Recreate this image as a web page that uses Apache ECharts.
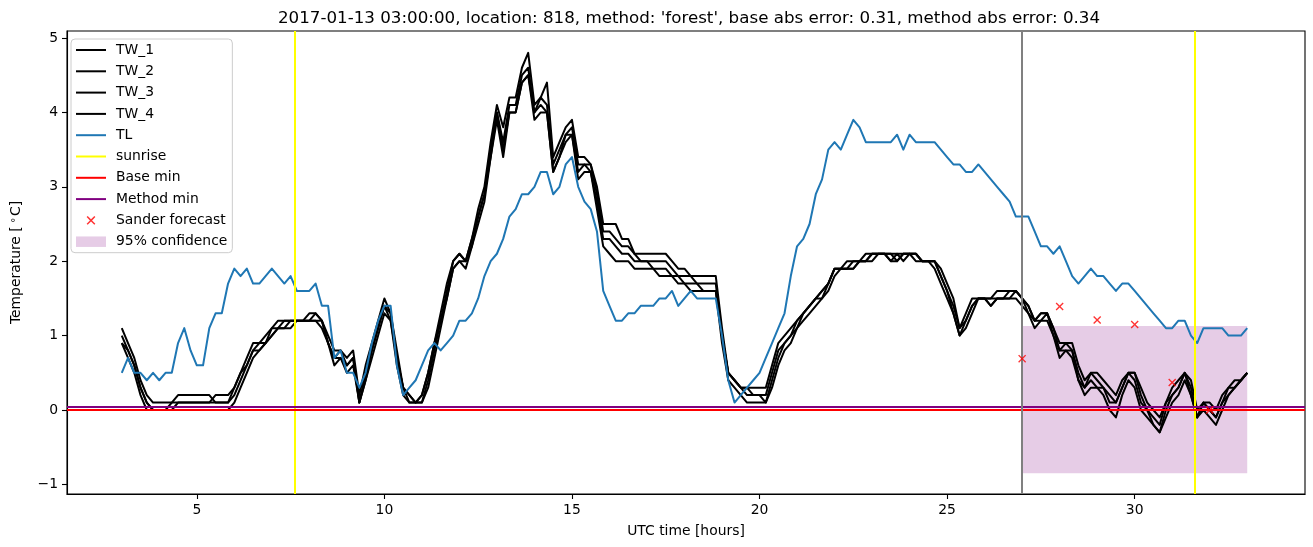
<!DOCTYPE html>
<html>
<head>
<meta charset="utf-8">
<script src="https://cdn.jsdelivr.net/npm/echarts@6/dist/echarts.min.js"></script>
<style>
html,body{margin:0;padding:0;background:#fff;}
#chart{width:1313px;height:547px;}
</style>
</head>
<body>
<div id="chart"></div>
<script>
// ---- data (10-minute samples from 3.0 h to 33.0 h) ----
const startHour = 3;
const stepHours = 1 / 6;

const TL = [
  0.5,0.7,0.5,0.5,0.4,0.5,
  0.4,0.5,0.5,0.9,1.1,0.8,
  0.6,0.6,1.1,1.3,1.3,1.7,
  1.9,1.8,1.9,1.7,1.7,1.8,
  1.9,1.8,1.7,1.8,1.6,1.6,
  1.6,1.7,1.4,1.4,0.7,0.8,
  0.5,0.5,0.3,0.5,0.9,1.2,
  1.4,1.4,0.6,0.2,0.3,0.4,
  0.6,0.8,0.9,0.8,0.9,1.0,
  1.2,1.2,1.3,1.5,1.8,2.0,
  2.1,2.3,2.6,2.7,2.9,2.9,
  3.0,3.2,3.2,2.9,3.0,3.3,
  3.4,3.0,2.8,2.7,2.4,1.6,
  1.4,1.2,1.2,1.3,1.3,1.4,
  1.4,1.4,1.5,1.5,1.6,1.4,
  1.5,1.6,1.5,1.5,1.5,1.5,
  1.0,0.4,0.1,0.2,0.3,0.4,
  0.5,0.7,0.9,1.1,1.3,1.8,
  2.2,2.3,2.5,2.9,3.1,3.5,
  3.6,3.5,3.7,3.9,3.8,3.6,
  3.6,3.6,3.6,3.6,3.7,3.5,
  3.7,3.6,3.6,3.6,3.6,3.5,
  3.4,3.3,3.3,3.2,3.2,3.3,
  3.2,3.1,3.0,2.9,2.8,2.6,
  2.6,2.6,2.4,2.2,2.2,2.1,
  2.2,2.0,1.8,1.7,1.8,1.9,
  1.8,1.8,1.7,1.6,1.7,1.7,
  1.6,1.5,1.4,1.3,1.2,1.1,
  1.1,1.2,1.2,1.0,0.9,1.1,
  1.1,1.1,1.1,1.0,1.0,1.0,
  1.1
];

const TW_1 = [
  1.1,0.9,0.7,0.4,0.2,0.1,
  0.1,0.1,0.1,0.2,0.2,0.2,
  0.2,0.2,0.2,0.1,0.1,0.1,
  0.3,0.5,0.7,0.9,0.9,1.0,
  1.1,1.2,1.2,1.2,1.2,1.2,
  1.3,1.3,1.2,1.0,0.8,0.8,
  0.7,0.8,0.2,0.6,0.9,1.2,
  1.5,1.3,0.8,0.3,0.2,0.1,
  0.2,0.5,0.9,1.3,1.7,2.0,
  2.1,2.0,2.3,2.7,3.0,3.6,
  4.1,3.8,4.2,4.2,4.6,4.8,
  4.1,4.2,4.4,3.4,3.6,3.8,
  3.9,3.4,3.4,3.3,3.0,2.5,
  2.5,2.5,2.3,2.3,2.1,2.1,
  2.1,2.1,2.1,2.1,2.0,1.9,
  1.9,1.8,1.8,1.8,1.8,1.8,
  1.1,0.5,0.4,0.3,0.3,0.3,
  0.3,0.3,0.6,0.9,1.0,1.1,
  1.2,1.3,1.4,1.5,1.6,1.7,
  1.9,1.9,2.0,2.0,2.0,2.1,
  2.1,2.1,2.1,2.1,2.1,2.1,
  2.1,2.1,2.0,2.0,2.0,1.9,
  1.7,1.5,1.1,1.3,1.5,1.5,
  1.5,1.5,1.6,1.6,1.6,1.6,
  1.5,1.4,1.2,1.3,1.3,1.1,
  0.9,0.9,0.9,0.6,0.4,0.5,
  0.5,0.4,0.3,0.2,0.4,0.5,
  0.5,0.3,0.1,0.0,-0.1,0.1,
  0.3,0.4,0.5,0.4,0.0,0.1,
  0.1,0.0,0.2,0.3,0.4,0.4,
  0.5
];

const TW_2 = [
  1.0,0.8,0.6,0.3,0.1,0.0,
  0.0,0.0,0.1,0.1,0.1,0.1,
  0.1,0.1,0.1,0.2,0.2,0.2,
  0.3,0.5,0.6,0.8,0.9,0.9,
  1.1,1.1,1.2,1.2,1.2,1.2,
  1.2,1.3,1.2,0.9,0.7,0.8,
  0.6,0.7,0.1,0.5,0.8,1.1,
  1.4,1.3,0.7,0.3,0.2,0.1,
  0.2,0.5,0.9,1.2,1.6,2.0,
  2.1,2.0,2.3,2.6,2.9,3.5,
  4.0,3.6,4.1,4.1,4.5,4.6,
  4.0,4.2,4.1,3.3,3.5,3.7,
  3.8,3.3,3.3,3.3,2.9,2.4,
  2.4,2.3,2.2,2.2,2.1,2.0,
  2.0,2.0,2.0,2.0,1.9,1.8,
  1.8,1.8,1.7,1.7,1.7,1.7,
  1.0,0.5,0.4,0.3,0.3,0.2,
  0.2,0.2,0.5,0.8,0.9,1.0,
  1.2,1.3,1.4,1.5,1.6,1.7,
  1.9,1.9,1.9,2.0,2.0,2.0,
  2.1,2.1,2.1,2.1,2.0,2.1,
  2.1,2.1,2.0,2.0,2.0,1.8,
  1.6,1.4,1.1,1.2,1.4,1.5,
  1.5,1.5,1.5,1.5,1.6,1.6,
  1.5,1.4,1.2,1.3,1.3,1.1,
  0.8,0.9,0.8,0.5,0.3,0.5,
  0.4,0.3,0.2,0.1,0.3,0.5,
  0.5,0.2,0.0,-0.1,-0.2,0.1,
  0.2,0.3,0.5,0.3,-0.1,0.1,
  0.0,-0.1,0.1,0.3,0.3,0.4,
  0.5
];

const TW_3 = [
  0.9,0.8,0.6,0.3,0.1,0.0,
  0.0,0.0,0.0,0.1,0.1,0.1,
  0.1,0.1,0.1,0.1,0.1,0.1,
  0.2,0.4,0.6,0.8,0.8,0.9,
  1.0,1.1,1.1,1.2,1.2,1.2,
  1.2,1.2,1.2,0.9,0.7,0.7,
  0.6,0.7,0.1,0.4,0.8,1.1,
  1.4,1.2,0.7,0.3,0.1,0.1,
  0.1,0.4,0.8,1.2,1.5,1.9,
  2.0,2.0,2.2,2.6,2.9,3.4,
  4.0,3.5,4.0,4.0,4.4,4.5,
  4.0,4.1,4.0,3.2,3.4,3.7,
  3.7,3.2,3.3,3.2,2.8,2.3,
  2.3,2.2,2.1,2.1,2.0,2.0,
  2.0,1.9,1.9,1.9,1.8,1.8,
  1.7,1.7,1.7,1.6,1.6,1.6,
  1.0,0.5,0.4,0.3,0.2,0.2,
  0.2,0.1,0.4,0.7,0.9,1.0,
  1.1,1.3,1.4,1.5,1.5,1.7,
  1.9,1.9,1.9,1.9,2.0,2.0,
  2.1,2.1,2.1,2.0,2.1,2.0,
  2.1,2.1,2.0,2.0,2.0,1.8,
  1.6,1.3,1.0,1.2,1.4,1.5,
  1.5,1.4,1.5,1.5,1.5,1.6,
  1.5,1.3,1.2,1.2,1.3,1.0,
  0.8,0.8,0.8,0.4,0.3,0.4,
  0.3,0.3,0.1,0.1,0.3,0.5,
  0.4,0.1,0.0,-0.2,-0.3,0.0,
  0.2,0.3,0.5,0.2,-0.1,0.1,
  0.0,-0.1,0.1,0.2,0.3,0.4,
  0.5
];

const TW_4 = [
  0.9,0.7,0.5,0.2,0.0,0.0,
  0.0,0.0,0.0,0.0,0.0,0.0,
  0.0,0.0,0.0,0.0,0.0,0.0,
  0.1,0.3,0.5,0.7,0.8,0.9,
  1.0,1.1,1.1,1.1,1.2,1.2,
  1.2,1.2,1.1,0.9,0.6,0.7,
  0.5,0.6,0.1,0.4,0.7,1.0,
  1.3,1.2,0.6,0.2,0.1,0.1,
  0.1,0.3,0.7,1.1,1.5,1.9,
  2.0,1.9,2.2,2.5,2.8,3.4,
  3.9,3.4,4.0,4.0,4.4,4.5,
  3.9,4.0,4.0,3.2,3.4,3.6,
  3.7,3.1,3.2,3.2,2.7,2.2,
  2.1,2.0,2.0,2.0,1.9,1.9,
  1.9,1.9,1.8,1.8,1.8,1.7,
  1.7,1.6,1.6,1.6,1.6,1.6,
  0.9,0.4,0.3,0.2,0.1,0.1,
  0.1,0.1,0.3,0.6,0.8,0.9,
  1.1,1.2,1.3,1.4,1.5,1.6,
  1.8,1.9,1.9,1.9,2.0,2.0,
  2.0,2.1,2.1,2.0,2.0,2.1,
  2.1,2.0,2.0,2.0,1.9,1.7,
  1.5,1.3,1.0,1.1,1.3,1.5,
  1.5,1.4,1.5,1.5,1.5,1.5,
  1.4,1.3,1.1,1.2,1.2,1.0,
  0.7,0.8,0.7,0.4,0.2,0.3,
  0.3,0.2,0.0,-0.1,0.2,0.4,
  0.3,0.0,-0.1,-0.2,-0.3,-0.1,
  0.1,0.2,0.4,0.2,-0.1,0.0,
  -0.1,-0.2,0.0,0.2,0.3,0.4,
  0.5
];

const sunriseHours = [7.61, 31.60];
const forecastStartHour = 27;
const baseMin = 0.0;
const methodMin = 0.045;
const sanderHours = [27, 28, 29, 30, 31, 32];
const sanderValues = [0.69, 1.39, 1.21, 1.15, 0.37, 0.0];
const confidenceHours = [27, 33];
const confidenceRange = [-0.85, 1.13];

const xTicks = [5, 10, 15, 20, 25, 30];
const yTicks = [-1, 0, 1, 2, 3, 4, 5];

const titleText = "2017-01-13 03:00:00, location: 818, method: 'forest', base abs error: 0.31, method abs error: 0.34";

// ---- build ----
const times = TL.map((_, i) => startHour + i * stepHours);
const pairs = arr => arr.map((v, i) => [times[i], v]);

const FONT = 'DejaVu Sans';
const xPath = 'path://M0,1.2 L1.2,0 L5,3.8 L8.8,0 L10,1.2 L6.2,5 L10,8.8 L8.8,10 L5,6.2 L1.2,10 L0,8.8 L3.8,5 Z';
const xLegendPath = 'path://M-3,-3 L-3,-3 Z M13,13 L13,13 Z M0,1.2 L1.2,0 L5,3.8 L8.8,0 L10,1.2 L6.2,5 L10,8.8 L8.8,10 L5,6.2 L1.2,10 L0,8.8 L3.8,5 Z';
const lineIcon = 'path://M0,0 L30,0 L30,2 L0,2 Z';
const rectIcon = 'path://M0,0 L30,0 L30,10.5 L0,10.5 Z';

function lineSeries(name, data, color, z) {
  return {
    name, type: 'line', data: pairs(data), symbol: 'none', showSymbol: false,
    color, lineStyle: { color, width: 2, join: 'round', cap: 'butt' },
    z, silent: true, animation: false
  };
}
function minusFmt(v) { return String(v).replace('-', '\u2212'); }

const chart = echarts.init(document.getElementById('chart'), null, { renderer: 'canvas' });
const option = {
  animation: false,
  backgroundColor: '#fff',
  textStyle: { fontFamily: FONT },
  title: {
    text: titleText, left: 684, top: 5, textAlign: 'center',
    textStyle: { fontFamily: FONT, fontSize: 16.7, fontWeight: 'normal', color: '#000' }
  },
  grid: { left: 65, right: 8, top: 31, bottom: 53, show: true, borderColor: '#000', borderWidth: 1.1, containLabel: false },
  legend: {
    orient: 'vertical', left: 71, top: 39, padding: [4, 5, 4, 5],
    itemWidth: 30, itemHeight: 14, itemGap: 7.3,
    backgroundColor: 'rgba(255,255,255,0.8)', borderColor: '#cccccc', borderWidth: 1, borderRadius: 4,
    selectedMode: false,
    textStyle: { fontFamily: FONT, fontSize: 13.9, color: '#000', padding: [0, 0, 0, 5] },
    data: [
      { name: 'TW_1', icon: lineIcon },
      { name: 'TW_2', icon: lineIcon },
      { name: 'TW_3', icon: lineIcon },
      { name: 'TW_4', icon: lineIcon },
      { name: 'TL', icon: lineIcon },
      { name: 'sunrise', icon: lineIcon },
      { name: 'Base min', icon: lineIcon },
      { name: 'Method min', icon: lineIcon },
      { name: 'Sander forecast', icon: xLegendPath, itemStyle: { color: '#ff0000' } },
      { name: '95% confidence', icon: rectIcon, itemStyle: { color: 'rgba(128,0,128,0.2)' } }
    ]
  },
  xAxis: {
    type: 'value', min: 1.54, max: 34.54,
    name: 'UTC time [hours]', nameLocation: 'middle', nameGap: 30,
    nameTextStyle: { fontFamily: FONT, fontSize: 13.9, color: '#000' },
    axisLine: { show: true, onZero: false, lineStyle: { color: '#000', width: 1.1 } },
    axisTick: { show: true, length: 5, lineStyle: { color: '#000', width: 1.1 }, customValues: xTicks },
    axisLabel: { show: true, margin: 9, color: '#000', fontFamily: FONT, fontSize: 13.9, customValues: xTicks, formatter: minusFmt },
    splitLine: { show: false }
  },
  yAxis: {
    type: 'value', min: -1.129, max: 5.094,
    name: 'Temperature [{s|\u2218}C]', nameLocation: 'middle', nameGap: 42, nameRotate: 90,
    nameTextStyle: { fontFamily: FONT, fontSize: 13.9, color: '#000',
      rich: { s: { fontFamily: FONT, fontSize: 10, color: '#000', padding: [0, 1, 7, 3] } } },
    axisLine: { show: true, onZero: false, lineStyle: { color: '#000', width: 1.1 } },
    axisTick: { show: true, length: 5, lineStyle: { color: '#000', width: 1.1 }, customValues: yTicks },
    axisLabel: { show: true, margin: 9, color: '#000', fontFamily: FONT, fontSize: 13.9, customValues: yTicks, formatter: minusFmt },
    splitLine: { show: false }
  },
  series: [
    {
      name: '95% confidence', type: 'line', data: [], color: 'rgba(128,0,128,0.2)', z: 1, silent: true,
      markArea: {
        silent: true, itemStyle: { color: 'rgba(128,0,128,0.2)' },
        data: [[{ xAxis: confidenceHours[0], yAxis: confidenceRange[0] }, { xAxis: confidenceHours[1], yAxis: confidenceRange[1] }]]
      }
    },
    lineSeries('TW_1', TW_1, '#000000', 3),
    lineSeries('TW_2', TW_2, '#000000', 3),
    lineSeries('TW_3', TW_3, '#000000', 3),
    lineSeries('TW_4', TW_4, '#000000', 3),
    lineSeries('TL', TL, '#1f77b4', 4),
    {
      name: 'sunrise', type: 'line', data: [], color: '#ffff00', lineStyle: { color: '#ffff00', width: 2 }, symbol: 'none', z: 5,
      markLine: { silent: true, symbol: ['none', 'none'], label: { show: false }, lineStyle: { color: '#ffff00', width: 2, type: 'solid' },
        data: sunriseHours.map(h => ({ xAxis: h })) }
    },
    {
      name: 'Base min', type: 'line', data: [], color: '#ff0000', lineStyle: { color: '#ff0000', width: 2 }, symbol: 'none', z: 5,
      markLine: { silent: true, symbol: ['none', 'none'], label: { show: false }, lineStyle: { color: '#ff0000', width: 2, type: 'solid' },
        data: [{ yAxis: baseMin }] }
    },
    {
      name: 'Method min', type: 'line', data: [], color: '#800080', lineStyle: { color: '#800080', width: 2 }, symbol: 'none', z: 5,
      markLine: { silent: true, symbol: ['none', 'none'], label: { show: false }, lineStyle: { color: '#800080', width: 2, type: 'solid' },
        data: [{ yAxis: methodMin }] }
    },
    {
      name: 'forecast start', type: 'line', data: [], color: '#808080', symbol: 'none', z: 5,
      markLine: { silent: true, symbol: ['none', 'none'], label: { show: false }, lineStyle: { color: '#808080', width: 2, type: 'solid' },
        data: [{ xAxis: forecastStartHour }] }
    },
    {
      name: 'Sander forecast', type: 'scatter', data: sanderHours.map((h, i) => [h, sanderValues[i]]),
      symbol: xPath, symbolSize: 8, itemStyle: { color: '#ff0000' }, z: 6, silent: true
    }
  ]
};
chart.setOption(option);
</script>
</body>
</html>
